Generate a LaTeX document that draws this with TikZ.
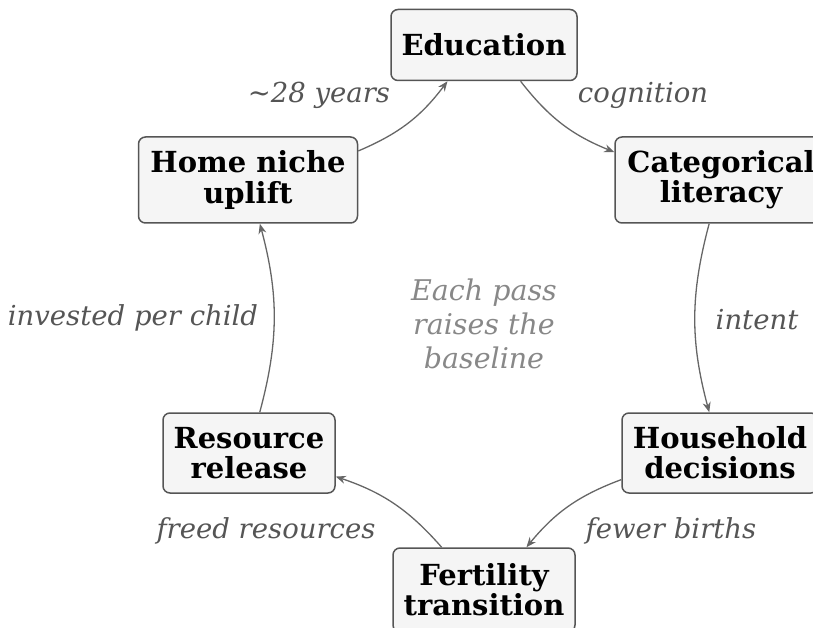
\documentclass[tikz,border=0pt]{standalone}
\usepackage{fontspec}
\setmainfont{DejaVu Serif}
\usetikzlibrary{arrows.meta}
\definecolor{nodefill}{HTML}{F5F5F5}
\definecolor{boxline}{HTML}{555555}
\definecolor{edgecol}{HTML}{666666}
\definecolor{lblcol}{HTML}{555555}
\definecolor{notecol}{HTML}{888888}
\begin{document}
\begin{tikzpicture}[x=1pt,y=-1pt,
  box/.style={draw=boxline, fill=nodefill, rounded corners=7pt, line width=1.5pt,
    align=center, inner sep=0pt, font=\fontsize{29}{30}\selectfont\bfseries},
  flow/.style={draw=edgecol, line width=1.3pt, -{Stealth[length=10pt,width=8pt]}, bend right=15},
  lbl/.style={font=\fontsize{27.5}{30}\selectfont\itshape, text=lblcol, inner sep=0pt},
  note/.style={font=\fontsize{28.5}{34}\selectfont\itshape, text=notecol, align=center, inner sep=0pt}]
\useasboundingbox (0,0) rectangle (813,628);
\node[box, minimum width=186pt, minimum height=71pt] (edu) at (484,45) {Education};
\node[box, minimum width=212pt, minimum height=86pt] (cat) at (721,180) {Categorical\\literacy};
\node[box, minimum width=196pt, minimum height=80pt] (hh) at (720,453) {Household\\decisions};
\node[box, minimum width=182pt, minimum height=84pt] (fer) at (484,590) {Fertility\\transition};
\node[box, minimum width=172pt, minimum height=80pt] (res) at (249,453) {Resource\\release};
\node[box, minimum width=219pt, minimum height=86pt] (home) at (248,180) {Home niche\\uplift};
\draw[flow] (home) to (edu);
\draw[flow] (edu) to (cat);
\draw[flow] (cat) to (hh);
\draw[flow] (hh) to (fer);
\draw[flow] (fer) to (res);
\draw[flow] (res) to (home);
\node[lbl] (l1) at (319,95) {\char"007E 28 years};
\node[lbl] (l2) at (643,95) {cognition};
\node[lbl] (l3) at (757,320) {intent};
\node[lbl] (l4) at (671,531) {fewer births};
\node[lbl] (l5) at (266,531) {freed resources};
\node[lbl] (l6) at (133,318) {invested per child};
\node[note] (c) at (484,324) {Each pass\\raises the\\baseline};
\end{tikzpicture}
\end{document}
